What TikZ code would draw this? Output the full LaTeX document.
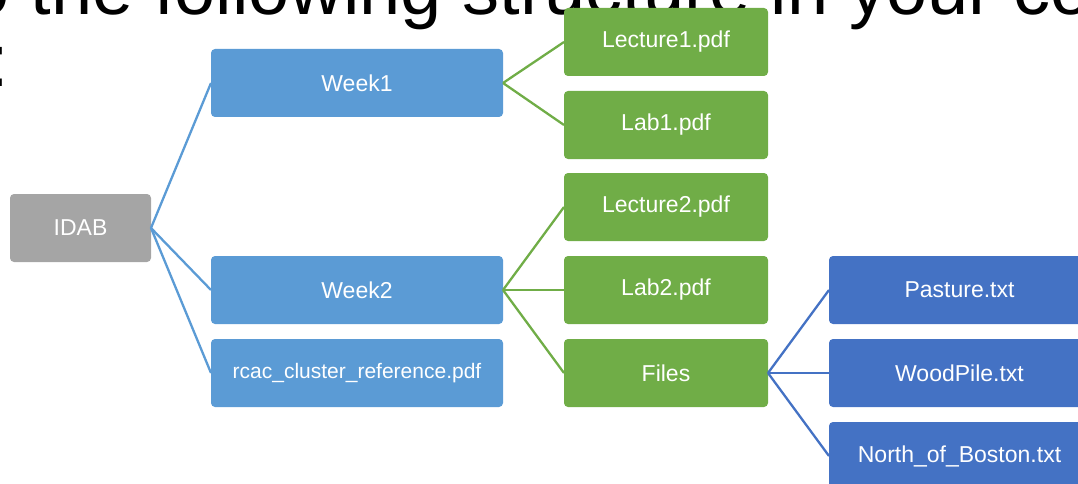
\documentclass[tikz,border=0pt]{standalone}
\usepackage{fontspec}
\setmainfont{Liberation Sans}
\definecolor{cgray}{HTML}{A5A5A5}
\definecolor{clblue}{HTML}{5B9BD5}
\definecolor{cgreen}{HTML}{70AD47}
\definecolor{cblue}{HTML}{4472C4}
\begin{document}
\begin{tikzpicture}[x=1pt,y=-1pt,
  box/.style={anchor=north west, rounded corners=4pt, text=white, minimum height=68pt,
    inner sep=0pt, outer sep=0pt, font=\fontsize{23}{23}\selectfont},
  graybox/.style={box, fill=cgray, minimum width=141pt},
  weekbox/.style={box, fill=clblue, minimum width=292pt},
  filebox/.style={box, fill=cgreen, minimum width=204pt},
  txtbox/.style={box, fill=cblue, minimum width=261pt},
  conn/.style={line width=2.3pt},
  title/.style={anchor=base west, inner sep=0pt, outer sep=0pt, font=\fontsize{74}{74}\selectfont}]
\useasboundingbox (0,0) rectangle (1078,484);
\clip (0,0) rectangle (1078,484);
\node[title] (t1) at (-31,15) {o the following structure in your co};
\node[title] (t2) at (-11,87) {:};
% nodes
\node[graybox] (idab) at (10,194) {IDAB};
\node[weekbox] (w1) at (211,49) {Week1};
\node[weekbox] (w2) at (211,256) {Week2};
\node[weekbox, font=\fontsize{21}{21}\selectfont] (rcac) at (211,339) {rcac\_cluster\_reference.pdf};
\node[filebox] (lec1) at (564,8) {Lecture1.pdf};
\node[filebox] (lab1) at (564,91) {Lab1.pdf};
\node[filebox] (lec2) at (564,173) {Lecture2.pdf};
\node[filebox] (lab2) at (564,256) {Lab2.pdf};
\node[filebox] (files) at (564,339) {Files};
\node[txtbox] (past) at (829,256) {Pasture.txt};
\node[txtbox] (wood) at (829,339) {WoodPile.txt};
\node[txtbox] (north) at (829,422) {North\_of\_Boston.txt};
% connectors
\begin{scope}[conn, draw=clblue]
\draw (idab.east) -- (w1.west);
\draw (idab.east) -- (w2.west);
\draw (idab.east) -- (rcac.west);
\end{scope}
\begin{scope}[conn, draw=cgreen]
\draw (w1.east) -- (lec1.west);
\draw (w1.east) -- (lab1.west);
\draw (w2.east) -- (lec2.west);
\draw (w2.east) -- (lab2.west);
\draw (w2.east) -- (files.west);
\end{scope}
\begin{scope}[conn, draw=cblue]
\draw (files.east) -- (past.west);
\draw (files.east) -- (wood.west);
\draw (files.east) -- (north.west);
\end{scope}
\end{tikzpicture}
\end{document}
